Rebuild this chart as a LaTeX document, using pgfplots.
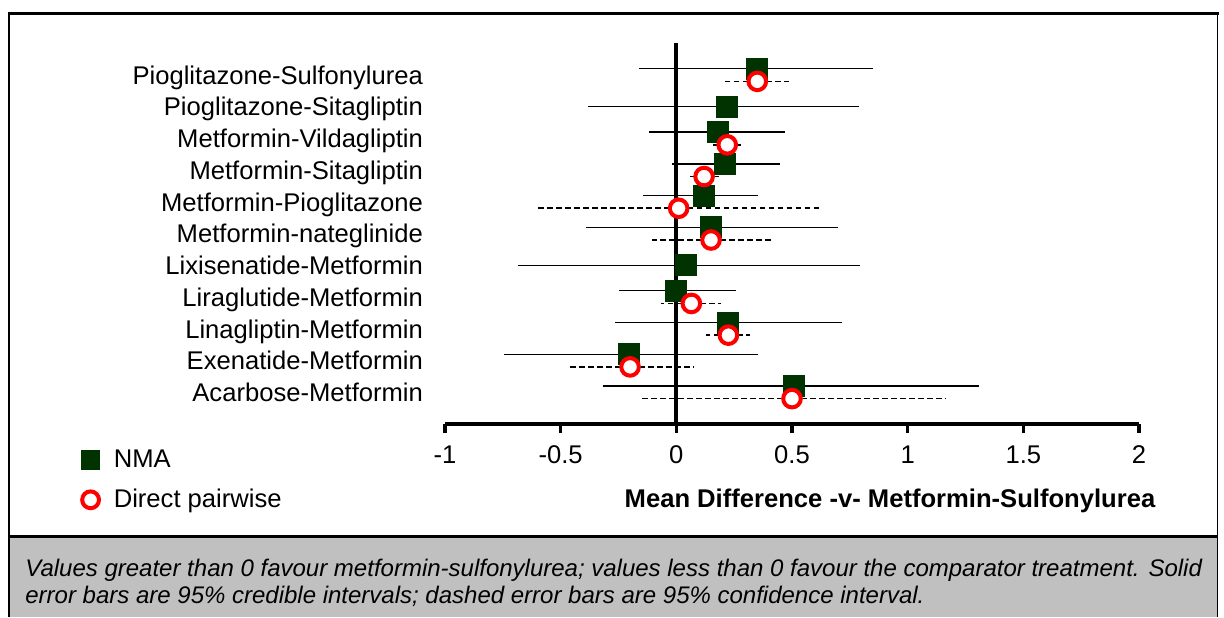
\documentclass[border=0pt]{standalone}
\usepackage{fontspec}
\setmainfont{Liberation Sans}
\usepackage{pgfplots}
\usepackage{pgfplotstable}
\pgfplotsset{compat=1.18}
\definecolor{nmagreen}{HTML}{003300}
\definecolor{capgray}{HTML}{C0C0C0}

% NMA estimates: y position, mean, lower, upper (95% credible interval)
\pgfplotstableread{
y m lo hi
11.2 0.35 -0.16 0.85
10.0 0.22 -0.38 0.79
9.2 0.18 -0.12 0.47
8.2 0.21 -0.02 0.45
7.2 0.12 -0.145 0.355
6.2 0.15 -0.39 0.70
5.0 0.04 -0.685 0.795
4.2 0.00 -0.25 0.26
3.2 0.225 -0.265 0.715
2.2 -0.205 -0.745 0.355
1.2 0.51 -0.315 1.31
}\nma

% Direct pairwise estimates (95% confidence interval)
\pgfplotstableread{
y m lo hi
10.8 0.35 0.21 0.485
8.8 0.22 0.15 0.28
7.8 0.12 0.06 0.19
6.8 0.01 -0.61 0.63
5.8 0.15 -0.105 0.41
3.8 0.065 -0.065 0.195
2.8 0.225 0.127 0.32
1.8 -0.20 -0.47 0.075
0.8 0.50 -0.16 1.165
}\pair

\begin{document}
\begin{tikzpicture}
\useasboundingbox (0,0) rectangle (612pt,308.5pt);
\fill[capgray] (4.5pt,0) rectangle (608.75pt,40.15pt);
\draw[line width=0.8pt] (4.5pt,0) -- (4.5pt,301.85pt);
\draw[line width=0.8pt] (608.75pt,0) -- (608.75pt,301.85pt);
\draw[line width=1.4pt] (3.8pt,301.85pt) -- (609.45pt,301.85pt);
\draw[line width=1.4pt] (4.5pt,40.15pt) -- (608.75pt,40.15pt);
\node[anchor=base west, inner sep=0pt, font=\fontsize{12}{14}\selectfont\itshape] at (12.5pt,20.5pt)
  {Values greater than 0 favour metformin-sulfonylurea; values less than 0 favour the comparator treatment. Solid};
\node[anchor=base west, inner sep=0pt, font=\fontsize{12}{14}\selectfont\itshape] at (12.5pt,6.75pt)
  {error bars are 95\% credible intervals; dashed error bars are 95\% confidence interval.};
\begin{axis}[
  at={(222.5pt,96.5pt)}, anchor=south west,
  scale only axis, width=347pt, height=190.35pt,
  xmin=-1, xmax=2, ymin=0, ymax=12,
  clip=false,
  separate axis lines,
  axis x line*=bottom,
  axis y line*=left,
  x axis line style={-, line width=1.6pt, black},
  y axis line style={draw=none},
  tick align=outside,
  major tick length=4.5pt,
  xtick={-1,-0.5,0,0.5,1,1.5,2},
  xtick style={line width=1.6pt, black},
  ytick={1,2,3,4,5,6,7,8,9,10,11},
  ytick style={draw=none},
  yticklabels={Acarbose-Metformin,Exenatide-Metformin,Linagliptin-Metformin,Liraglutide-Metformin,Lixisenatide-Metformin,Metformin-nateglinide,Metformin-Pioglitazone,Metformin-Sitagliptin,Metformin-Vildagliptin,Pioglitazone-Sitagliptin,Pioglitazone-Sulfonylurea},
  /pgf/number format/assume math mode=true,
  ticklabel style={font=\fontsize{12.8}{15}\selectfont},
  xticklabel style={anchor=base, inner sep=0pt, yshift=-15.15pt},
  yticklabel style={anchor=base east, inner sep=0pt, yshift=-4.6pt, xshift=-6.35pt},
  xlabel={Mean Difference -v- Metformin-Sulfonylurea},
  xlabel style={font=\fontsize{12.8}{15}\selectfont\bfseries, at={(axis description cs:0.6412,-0.2206)}, anchor=base, inner sep=0pt},
  legend style={at={(-0.5245,-0.0552)}, anchor=north west, draw=none, fill=none, inner sep=0pt,
    font=\fontsize{12.8}{15}\selectfont, cells={anchor=west}, row sep=5.5pt, column sep=5pt},
]
\addplot[line width=2pt, black, forget plot] coordinates {(0,0) (0,12)};

\addplot[only marks, mark=square*, mark size=5.25pt,
  mark options={fill=nmagreen, draw=nmagreen, solid},
  forget plot,
  error bars/.cd, x dir=both, x explicit, error mark=none,
  error bar style={line width=0.7pt, black, solid}]
  table[x=m, y=y, x error plus expr=\thisrow{hi}-\thisrow{m}, x error minus expr=\thisrow{m}-\thisrow{lo}] {\nma};

\addplot[only marks, mark=*, mark size=4.4pt,
  mark options={fill=white, draw=red, line width=2pt, solid},
  forget plot,
  error bars/.cd, x dir=both, x explicit, error mark=none,
  error bar style={line width=0.85pt, black, dash pattern=on 2.8pt off 1.7pt}]
  table[x=m, y=y, x error plus expr=\thisrow{hi}-\thisrow{m}, x error minus expr=\thisrow{m}-\thisrow{lo}] {\pair};

\addlegendimage{only marks, mark=square*, mark size=4.6pt, mark options={fill=nmagreen, draw=nmagreen}}
\addlegendentry{NMA}
\addlegendimage{only marks, mark=*, mark size=4.2pt, mark options={fill=white, draw=red, line width=2pt}}
\addlegendentry{Direct pairwise}
\end{axis}
\end{tikzpicture}
\end{document}
